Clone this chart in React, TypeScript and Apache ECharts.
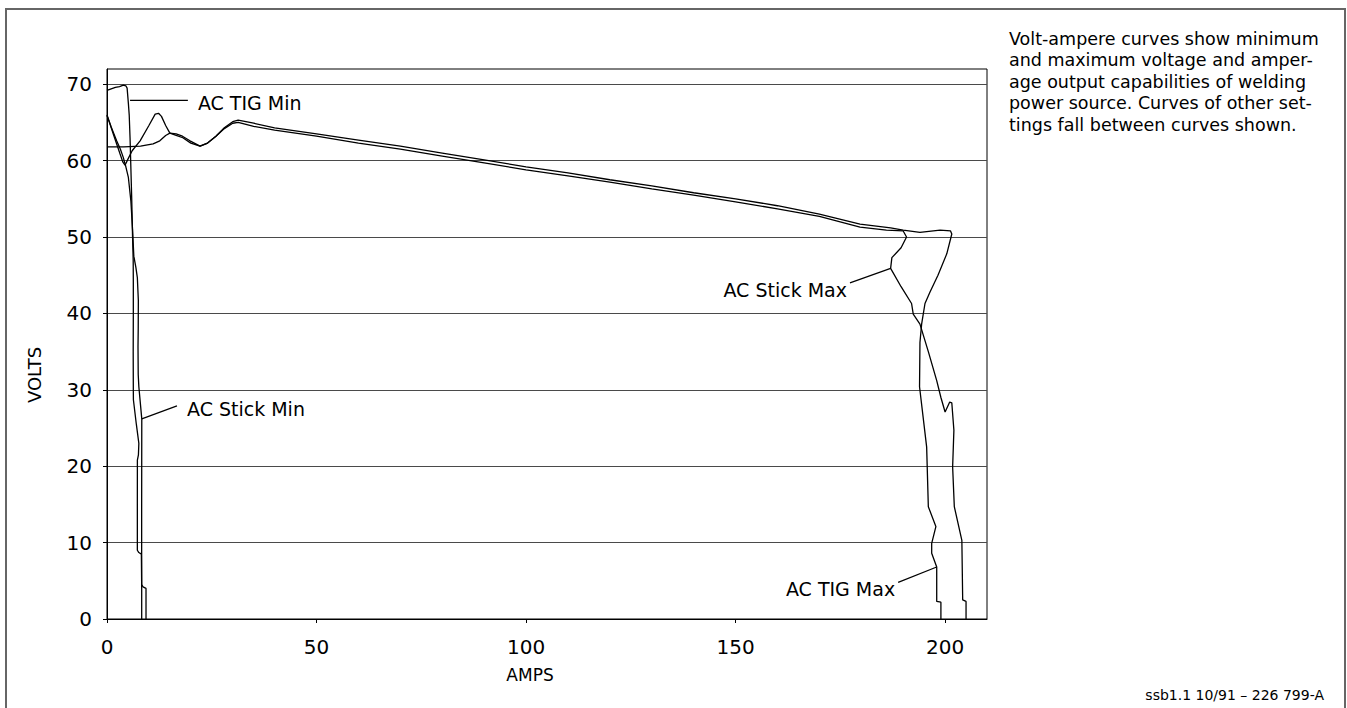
import React, { useEffect, useRef } from "react";
import * as echarts from "echarts";

// ---------- data (amps, volts) ----------
const AMPS_TICKS = [0, 50, 100, 150, 200];
const VOLTS_TICKS = [0, 10, 20, 30, 40, 50, 60, 70];
const AMPS_RANGE = [0, 210];
const VOLTS_RANGE = [0, 72];

const acTigMin: [number, number][] = [
  [0, 69.2], [1, 69.4], [2, 69.6], [3, 69.7], [3.9, 69.9], [4.5, 69.8], [4.8, 69.5],
  [5.1, 67.5], [5.3, 66], [5.5, 63], [5.65, 60], [5.9, 55], [6.1, 50], [6.25, 47],
  [6.28, 44], [6.28, 40], [6.25, 35], [6.28, 30], [6.3, 28.7], [7.0, 25.5], [7.6, 23],
  [7.5, 21.5], [7.25, 20.8], [7.24, 15], [7.24, 9.0], [7.6, 8.7], [8.2, 8.5], [8.28, 4], [8.28, 0],
];

const acStickMin: [number, number][] = [
  [0, 65.9], [1, 64.4], [2.3, 62.6], [3.2, 61.5], [3.9, 60.4], [4.5, 59.2], [5.1, 57.8],
  [5.7, 54.7], [6.1, 51], [6.4, 47.5], [6.9, 46], [7.24, 44.7], [7.48, 41.7], [7.45, 38],
  [7.4, 35.6], [7.45, 32], [7.6, 30.4], [8.0, 28], [8.3, 26.2], [8.27, 15], [8.27, 4.5],
  [8.6, 4.2], [9.31, 4.0], [9.31, 0],
];

const acStickMax: [number, number][] = [
  [0, 66], [1.5, 63.5], [3.1, 60.9], [3.8, 59.8], [4.3, 59.4], [5, 60.2], [6, 61.3],
  [7.9, 62.6], [10, 64.6], [11.5, 66.1], [12.3, 66.2], [13, 65.8], [14, 64.6], [15, 63.6],
  [16.5, 63.3], [18.1, 63.0], [20, 62.3], [22.2, 61.9], [24, 62.3], [26, 63.2], [28, 64.2],
  [30, 64.9], [31.3, 65.0], [35, 64.5], [40, 64.0], [50, 63.2], [60, 62.3], [70, 61.5],
  [80, 60.6], [90, 59.7], [100, 58.8], [110, 58.0], [120, 57.2], [130, 56.3], [140, 55.5],
  [150, 54.6], [160, 53.7], [170, 52.7], [179.7, 51.3], [186, 50.9], [190, 50.8],
  [190.8, 50.0], [189.5, 48.6], [187.3, 47.3], [187, 45.9], [189.5, 43.5], [192, 41.3],
  [192.4, 39.9], [194, 38.6], [196, 35], [198, 31.2], [199, 29], [200, 27.1], [201.1, 28.4],
  [201.6, 28.3], [202.1, 24.7], [201.8, 19.9], [202.2, 14.7], [204, 10.3], [204.2, 2.5],
  [205, 2.3], [205, 0],
];

const acTigMax: [number, number][] = [
  [0, 61.8], [4, 61.8], [8, 61.9], [11, 62.2], [12.6, 62.6], [14, 63.3], [15, 63.6],
  [16.5, 63.5], [18, 63.2], [19.8, 62.6], [22.2, 61.9], [24, 62.3], [26, 63.2], [28, 64.3],
  [30, 65.1], [31.3, 65.3], [35, 64.9], [40, 64.3], [50, 63.5], [60, 62.7], [70, 61.9],
  [80, 61.0], [90, 60.1], [100, 59.2], [110, 58.4], [120, 57.5], [130, 56.7], [140, 55.8],
  [150, 55.0], [160, 54.1], [170, 53.0], [179.7, 51.7], [187, 51.2], [190, 50.9],
  [194, 50.6], [198.8, 50.9], [201.3, 50.8], [201.6, 50.4], [200.4, 47.8], [198.3, 45],
  [196.4, 42.8], [195.2, 41.3], [194.4, 38.6], [194, 36.2], [193.9, 30.4], [195.6, 22.5],
  [196, 14.7], [197.8, 12.1], [196.8, 9.9], [196.8, 8.6], [198, 6.8], [198, 2.3],
  [199, 2.2], [199, 0],
];

const SERIES = [
  { name: "AC TIG Min", data: acTigMin },
  { name: "AC Stick Min", data: acStickMin },
  { name: "AC Stick Max", data: acStickMax },
  { name: "AC TIG Max", data: acTigMax },
];

// callouts: point on curve, leader end near text (data units)
const CALLOUTS = [
  { label: "AC TIG Min", curve: [5.5, 67.9], end: [19.3, 67.9], side: "left" },
  { label: "AC Stick Min", curve: [8.3, 26.2], end: [16.7, 27.9], side: "left" },
  { label: "AC Stick Max", curve: [187, 45.9], end: [177.3, 44.0], side: "right" },
  { label: "AC TIG Max", curve: [198, 6.8], end: [188.8, 4.8], side: "right" },
];

const X_NAME = "AMPS";
const Y_NAME = "VOLTS";
const NOTE_LINES = [
  "Volt-ampere curves show minimum",
  "and maximum voltage and amper-",
  "age output capabilities of welding",
  "power source. Curves of other set-",
  "tings fall between curves shown.",
];
const FOOTER = "ssb1.1 10/91 \u2013 226 799-A";

const FONT = "DejaVu Sans";

export default function App() {
  const ref = useRef<HTMLDivElement>(null);

  useEffect(() => {
    if (!ref.current) return;
    const chart = echarts.init(ref.current, undefined, { renderer: "svg" });

    const option: any = {
      animation: false,
      backgroundColor: "#ffffff",
      grid: {
        left: 107,
        right: 360,
        top: 69,
        bottom: 89,
        show: true,
        borderColor: "#000",
        borderWidth: 1,
        backgroundColor: "transparent",
      },
      xAxis: {
        type: "value",
        min: AMPS_RANGE[0],
        max: AMPS_RANGE[1],
        interval: 50,
        axisLine: { show: true, onZero: false, lineStyle: { color: "#000", width: 1 } },
        axisTick: { show: true, length: 4, customValues: AMPS_TICKS, lineStyle: { color: "#000" } },
        axisLabel: {
          customValues: AMPS_TICKS,
          margin: 18,
          color: "#000",
          fontSize: 20,
          fontFamily: FONT,
        },
        splitLine: { show: false },
      },
      yAxis: {
        type: "value",
        min: VOLTS_RANGE[0],
        max: VOLTS_RANGE[1],
        interval: 10,
        axisLine: { show: true, onZero: false, lineStyle: { color: "#000", width: 1 } },
        axisTick: { show: true, length: 4, customValues: VOLTS_TICKS, lineStyle: { color: "#000" } },
        axisLabel: {
          customValues: VOLTS_TICKS,
          margin: 15,
          color: "#000",
          fontSize: 20,
          fontFamily: FONT,
        },
        splitLine: { show: true, lineStyle: { color: "#4a4a4a", width: 1.2 } },
      },
      series: SERIES.map((s) => ({
        name: s.name,
        type: "line",
        data: s.data,
        showSymbol: false,
        symbol: "none",
        smooth: false,
        silent: true,
        lineStyle: { color: "#000", width: 1.3 },
        z: 3,
      })),
    };

    chart.setOption(option);

    const px = (p: number[]) =>
      chart.convertToPixel({ xAxisIndex: 0, yAxisIndex: 0 }, p) as number[];

    const graphics: any[] = [
      {
        type: "rect",
        shape: { x: 6, y: 9, width: 1339, height: 730 },
        style: { fill: "none", stroke: "#666", lineWidth: 2 },
        silent: true,
      },
      {
        type: "text",
        x: 1009,
        y: 28,
        style: {
          text: NOTE_LINES.join("\n"),
          font: `17.5px "${FONT}"`,
          fill: "#000",
          lineHeight: 21.5,
          align: "left",
          verticalAlign: "top",
        },
      },
      {
        type: "text",
        x: 1324,
        y: 695,
        style: {
          text: FOOTER,
          font: `14px "${FONT}"`,
          fill: "#000",
          align: "right",
          verticalAlign: "middle",
        },
      },
      {
        type: "text",
        x: 530,
        y: 675,
        style: {
          text: X_NAME,
          font: `17px "${FONT}"`,
          fill: "#000",
          align: "center",
          verticalAlign: "middle",
        },
      },
      {
        type: "text",
        x: 34,
        y: 375,
        rotation: Math.PI / 2,
        style: {
          text: Y_NAME,
          font: `18px "${FONT}"`,
          fill: "#000",
          align: "center",
          verticalAlign: "middle",
        },
      },
    ];

    CALLOUTS.forEach((c) => {
      const a = px(c.curve);
      const b = px(c.end);
      graphics.push({
        type: "line",
        shape: { x1: a[0], y1: a[1], x2: b[0], y2: b[1] },
        style: { stroke: "#000", lineWidth: 1.2 },
        silent: true,
      });
      const left = c.side === "left";
      graphics.push({
        type: "text",
        x: left ? b[0] + 10 : b[0] - 3,
        y: left ? b[1] + 3 : b[1] + 7,
        style: {
          text: c.label,
          font: `19px "${FONT}"`,
          fill: "#000",
          align: left ? "left" : "right",
          verticalAlign: "middle",
        },
      });
    });

    chart.setOption({ graphic: graphics });

    return () => chart.dispose();
  }, []);

  return (
    <div
      ref={ref}
      style={{ position: "fixed", left: 0, top: 0, width: 1347, height: 708, background: "#fff" }}
    />
  );
}
